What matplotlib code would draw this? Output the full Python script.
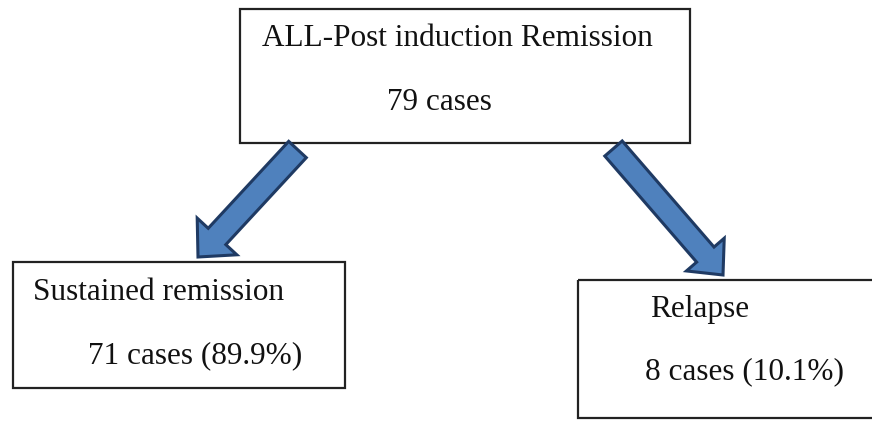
import matplotlib.pyplot as plt
from matplotlib.patches import Rectangle, FancyArrow

# flowchart content
titles = ["ALL-Post induction Remission", "Sustained remission", "Relapse"]
cases = [79, 71, 8]
percents = [None, 89.9, 10.1]

# box geometry in pixels (x0, y0, x1, y1), y from top
boxes = [(240, 9, 690, 143), (13, 262, 345, 388), (578, 280, 880, 418)]
title_pos = [(262, 38), (33, 292), (650, 310)]
count_pos = [(387, 103), (88, 356), (645, 372)]

# arrows: tail centre -> tip
arrows = [((297.5, 149.5), (198, 257), 24, 54, 28),
          ((613.5, 148.5), (723, 275), 23, 50, 27)]

fig = plt.figure(figsize=(8.72, 4.21), dpi=100)
ax = fig.add_axes([0, 0, 1, 1])
ax.set_xlim(0, 872)
ax.set_ylim(421, 0)
ax.axis("off")

font = dict(family="Liberation Serif", fontsize=22.5, color="#111111")

for i in range(len(boxes)):
    x0, y0, x1, y1 = boxes[i]
    ax.add_patch(Rectangle((x0, y0), x1 - x0, y1 - y0, fill=False,
                           edgecolor="#222222", linewidth=1.6))
    ax.text(title_pos[i][0], title_pos[i][1], titles[i], va="center", ha="left", **font)
    if percents[i] is None:
        label = f"{cases[i]} cases"
    else:
        label = f"{cases[i]} cases ({percents[i]}%)"
    ax.text(count_pos[i][0], count_pos[i][1], label, va="center", ha="left", **font)

for (tx, ty), (hx, hy), w, hw, hl in arrows:
    ax.add_patch(FancyArrow(tx, ty, hx - tx, hy - ty, width=w, head_width=hw,
                            head_length=hl, length_includes_head=True,
                            facecolor="#4f81bd", edgecolor="#1f3a63", linewidth=2.2))

fig.savefig("out.png", dpi=100)
